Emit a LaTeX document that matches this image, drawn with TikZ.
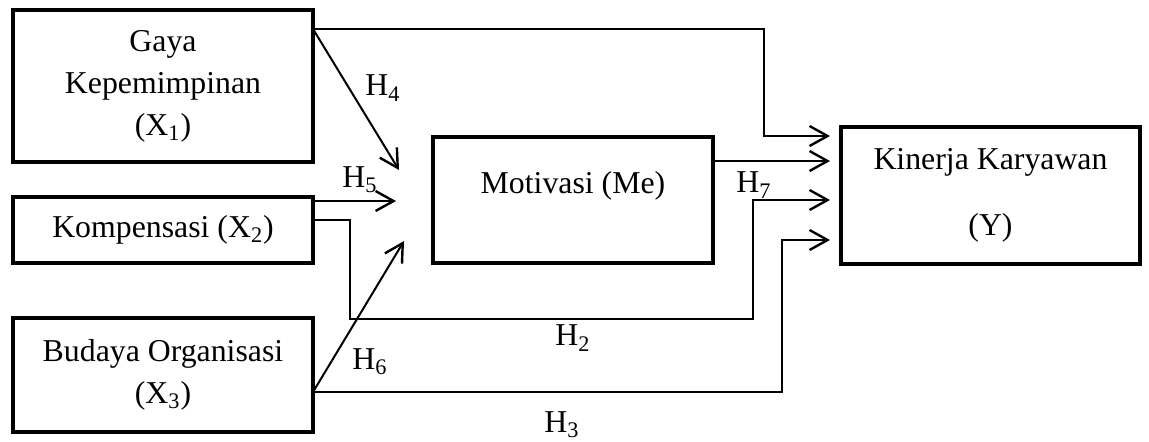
\documentclass[tikz,border=0pt]{standalone}
\usepackage{fontspec}
\setmainfont{Liberation Serif}
\usetikzlibrary{arrows.meta}
\begin{document}
\begin{tikzpicture}[x=0.5pt,y=-0.5pt,
  txt/.style={font=\fontsize{15.9}{21}\selectfont, align=center, inner sep=0pt},
  box/.style={txt, draw, line width=2.3pt, outer sep=0pt},
  tip/.style={-{Straight Barb[length=9pt,width=10pt,line width=1.2pt]}},
  arr/.style={tip, line width=1pt},
  thin/.style={tip, line width=0.75pt},
  toY/.style={shorten >=5.5pt}]
\useasboundingbox (0,0) rectangle (1149,441);
% boxes
\node[box, minimum width=150pt, minimum height=76pt] (x1) at (163,86) {Gaya\\Kepemimpinan\\(X\textsubscript{1})};
\node[box, minimum width=150pt, minimum height=33pt] (x2) at (163,230) {Kompensasi (X\textsubscript{2})};
\node[box, minimum width=150pt, minimum height=57pt] (x3) at (163,375) {Budaya Organisasi\\(X\textsubscript{3})};
\node[box, minimum width=140pt, minimum height=63pt] (me) at (573,200) {};
\node[txt] (metext) at (573,186) {Motivasi (Me)};
\node[box, minimum width=149.5pt, minimum height=68.5pt] (y) at (990.5,195.5) {Kinerja Karyawan\\[12pt](Y)};
% free ends
\coordinate (h4e) at (399,170);
\coordinate (h5e) at (396,201);
\coordinate (h6e) at (404,241);
% connectors
\draw[thin, toY] (x1.east |- 0,29) -| (764,136) -- (y.west |- 0,136);
\draw[arr] (x1.east |- 0,29) -- (h4e);
\draw[arr] (x2.east |- 0,201) -- (h5e);
\draw[arr] (x3.east |- 0,392) -- (h6e);
\draw[arr, toY] (me.east |- 0,161) -- (y.west |- 0,161);
\draw[thin, toY] (x2.east |- 0,220) -- (350,220) -- (350,319) -- (753,319) -- (753,200) -- (y.west |- 0,200);
\draw[thin, toY] (x3.east |- 0,392) -| (782,240) -- (y.west |- 0,240);
% labels
\node[txt] (lh4) at (383,88) {H\textsubscript{4}};
\node[txt] (lh5) at (360,180) {H\textsubscript{5}};
\node[txt] (lh6) at (370,362) {H\textsubscript{6}};
\node[txt] (lh7) at (754,185) {H\textsubscript{7}};
\node[txt] (lh2) at (573,338) {H\textsubscript{2}};
\node[txt] (lh3) at (562,425) {H\textsubscript{3}};
\end{tikzpicture}
\end{document}
